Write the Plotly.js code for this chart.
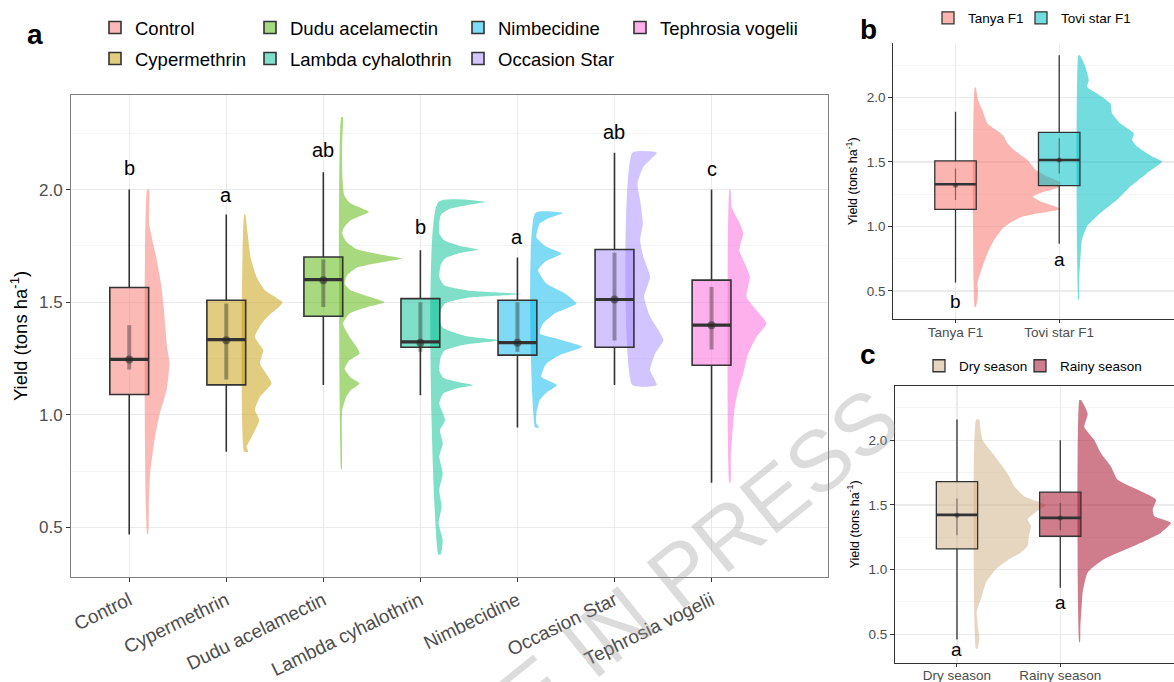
<!DOCTYPE html>
<html><head><meta charset="utf-8">
<script src="https://cdn.plot.ly/plotly-3.0.1.min.js"></script>
<style>html,body{margin:0;padding:0;background:#fff}#chart{width:1174px;height:682px}</style>
</head><body><div id="chart"></div>
<script>
// ---------------- Panel a data ----------------
const catsA = ['Control','Cypermethrin','Dudu acelamectin','Lambda cyhalothrin','Nimbecidine','Occasion Star','Tephrosia vogelii'];
const colorsA = ['#F8766D','#C49A00','#53B400','#00C094','#00B6EB','#A58AFF','#FB61D7'];
const lowA   = [0.469, 0.836, 1.133, 1.087, 0.944, 1.132, 0.698];
const q1A    = [1.090, 1.133, 1.438, 1.300, 1.265, 1.300, 1.220];
const medA   = [1.246, 1.334, 1.600, 1.324, 1.321, 1.512, 1.398];
const q3A    = [1.565, 1.509, 1.701, 1.516, 1.509, 1.734, 1.598];
const highA  = [2.000, 1.889, 2.077, 1.731, 1.698, 2.164, 2.000];
const meanA  = [1.246, 1.331, 1.598, 1.320, 1.320, 1.512, 1.398];
const ciLoA  = [1.201, 1.157, 1.479, 1.280, 1.280, 1.330, 1.290];
const ciHiA  = [1.398, 1.494, 1.690, 1.500, 1.500, 1.720, 1.568];
const lettersA = ['b','a','ab','b','a','ab','c'];
const letterYA = [2.094, 1.975, 2.175, 1.834, 1.790, 2.256, 2.090];

// half-violin density profiles (yield, density)
const vControlY = [2.00,1.85,1.70,1.58,1.48,1.40,1.30,1.23,1.11,1.00,0.89,0.74,0.59,0.47];
const vControlD = [0.02,0.02,0.093,0.144,0.170,0.185,0.205,0.230,0.200,0.127,0.076,0.031,0.017,0.010];
const vCyperY = [1.889,1.820,1.701,1.612,1.553,1.520,1.500,1.480,1.440,1.405,1.346,1.287,1.228,1.169,1.139,1.080,1.021,0.976,0.902,0.858,0.836];
const vCyperD = [0.010,0.031,0.065,0.127,0.213,0.330,0.395,0.360,0.250,0.179,0.110,0.196,0.162,0.247,0.282,0.162,0.110,0.155,0.076,0.024,0.041];
const vDuduY = [2.322,2.219,2.071,1.975,1.940,1.915,1.901,1.887,1.862,1.830,1.805,1.770,1.735,1.712,1.694,1.676,1.653,1.620,1.583,1.555,1.525,1.500,1.480,1.450,1.405,1.346,1.300,1.272,1.240,1.205,1.165,1.139,1.110,1.080,1.021,0.962,0.757];
const vDuduD = [0.017,0.010,0.010,0.030,0.090,0.220,0.285,0.220,0.090,0.025,0.010,0.050,0.160,0.400,0.629,0.400,0.160,0.060,0.034,0.090,0.280,0.447,0.280,0.086,0.017,0.086,0.160,0.189,0.080,0.034,0.100,0.189,0.100,0.052,0.010,0.005,0.005];
const vLambdaY = [1.945,1.935,1.915,1.890,1.860,1.805,1.775,1.750,1.734,1.718,1.695,1.665,1.612,1.575,1.552,1.536,1.520,1.495,1.464,1.420,1.385,1.350,1.331,1.312,1.285,1.257,1.198,1.165,1.147,1.132,1.117,1.095,1.050,0.976,0.932,0.873,0.814,0.740,0.666,0.592,0.518,0.444,0.380];
const vLambdaD = [0.481,0.350,0.120,0.030,0.012,0.010,0.060,0.220,0.412,0.220,0.070,0.025,0.010,0.060,0.300,0.859,0.300,0.070,0.025,0.012,0.050,0.280,0.636,0.280,0.060,0.025,0.010,0.050,0.190,0.361,0.190,0.050,0.010,0.069,0.017,0.045,0.010,0.045,0.010,0.034,0.003,0.045,0.024];
const vNimbY = [1.896,1.870,1.849,1.790,1.750,1.716,1.680,1.642,1.583,1.540,1.494,1.450,1.405,1.361,1.335,1.302,1.265,1.228,1.169,1.132,1.100,1.065,1.006,0.962,0.944];
const vNimbD = [0.285,0.120,0.045,0.010,0.100,0.268,0.100,0.027,0.113,0.300,0.423,0.200,0.079,0.045,0.250,0.485,0.250,0.113,0.062,0.223,0.120,0.045,0.010,0.010,0.038];
const vOccY = [2.164,2.101,2.027,1.953,1.849,1.775,1.701,1.612,1.524,1.435,1.376,1.331,1.272,1.198,1.132];
const vOccD = [0.251,0.113,0.052,0.079,0.107,0.079,0.113,0.182,0.120,0.182,0.268,0.320,0.234,0.182,0.251];
const vTephY = [2.000,1.923,1.849,1.805,1.731,1.672,1.612,1.524,1.464,1.405,1.346,1.272,1.183,1.109,1.036,0.962,0.814,0.698];
const vTephD = [0.010,0.021,0.107,0.141,0.100,0.158,0.210,0.175,0.278,0.381,0.278,0.192,0.141,0.089,0.055,0.038,0.014,0.010];
const violinsA = [[vControlY,vControlD],[vCyperY,vCyperD],[vDuduY,vDuduD],[vLambdaY,vLambdaD],[vNimbY,vNimbD],[vOccY,vOccD],[vTephY,vTephD]];

// ---------------- Panel b data ----------------
const catsB = ['Tanya F1','Tovi star F1'];
const colorsB = ['#F8766D','#00BFC4'];
const lowB  = [0.565, 0.865];
const q1B   = [1.133, 1.316];
const medB  = [1.327, 1.515];
const q3B   = [1.509, 1.729];
const highB = [1.889, 2.327];
const meanB = [1.320, 1.515];
const ciLoB = [1.205, 1.410];
const ciHiB = [1.450, 1.683];
const lettersB = ['b','a'];
const letterYB = [0.418, 0.741];
const vTanyaY = [2.077,1.979,1.902,1.799,1.730,1.696,1.645,1.593,1.516,1.439,1.387,1.340,1.300,1.262,1.232,1.200,1.136,1.100,1.072,0.995,0.892,0.789,0.686,0.557,0.505,0.428,0.376];
const vTanyaD = [0.010,0.032,0.074,0.122,0.240,0.283,0.315,0.379,0.508,0.588,0.700,0.830,0.800,0.640,0.560,0.620,0.830,0.600,0.444,0.283,0.186,0.122,0.074,0.026,0.032,0.026,0.010];
const vToviY = [2.327,2.237,2.134,2.082,2.031,1.953,1.876,1.799,1.722,1.670,1.619,1.542,1.503,1.413,1.310,1.207,1.104,1.001,0.898,0.744,0.563,0.434];
const vToviD = [0.013,0.068,0.100,0.084,0.180,0.309,0.325,0.405,0.534,0.518,0.566,0.711,0.807,0.662,0.502,0.373,0.212,0.084,0.035,0.019,0.006,0.006];
const violinsB = [[vTanyaY,vTanyaD],[vToviY,vToviD]];

// ---------------- Panel c data ----------------
const catsC = ['Dry season','Rainy season'];
const colorsC = ['#D2B48C','#A8102F'];
const lowC  = [0.460, 0.860];
const q1C   = [1.160, 1.258];
const medC  = [1.423, 1.400];
const q3C   = [1.681, 1.600];
const highC = [2.161, 2.000];
const meanC = [1.420, 1.400];
const ciLoC = [1.265, 1.305];
const ciHiC = [1.550, 1.515];
const lettersC = ['a','a'];
const letterYC = [0.380, 0.745];
const vDryY = [2.161,2.102,2.000,1.898,1.796,1.719,1.643,1.566,1.500,1.464,1.388,1.337,1.260,1.184,1.133,1.082,1.005,0.903,0.776,0.673,0.571,0.469,0.388];
const vDryD = [0.032,0.039,0.065,0.161,0.258,0.323,0.371,0.468,0.677,0.613,0.500,0.532,0.510,0.500,0.435,0.323,0.194,0.097,0.048,0.006,0.016,0.032,0.013];
const vRainyY = [2.311,2.204,2.102,2.000,1.898,1.796,1.694,1.617,1.541,1.464,1.413,1.362,1.286,1.184,1.082,0.980,0.827,0.724,0.571,0.439];
const vRainyD = [0.016,0.081,0.048,0.145,0.210,0.306,0.371,0.565,0.742,0.710,0.726,0.887,0.790,0.532,0.242,0.081,0.032,0.023,0.010,0.006];
const violinsC = [[vDryY,vDryD],[vRainyY,vRainyD]];

const yTicks = [0.5, 1.0, 1.5, 2.0];
const yTickText = ['0.5','1.0','1.5','2.0'];
const yMinor = [0.75, 1.25, 1.75, 2.25];

// ---------------- drawing ----------------
const W = 1174, H = 682;
const FONT = 'Liberation Sans, Arial, sans-serif';
const VOFF = 0.185, VSCALE = 1.0, BOXW = 0.4;
function rgba(hex, a){const n=parseInt(hex.slice(1),16);return `rgba(${(n>>16)&255},${(n>>8)&255},${n&255},${a})`;}

const traces = [];
const annotations = [];
const legends = {};
let legendCount = 0;

function addPanel(cats, colors, violins, low, q1, med, q3, high, mean, ciLo, ciHi, letters, letterY, ax, ov, st, legendPos) {
  cats.forEach((c, i) => {
    const pos = i + 1;
    const base = pos + VOFF;
    const [vy, vd] = violins[i];
    const xs = [base], ys = [vy[0]];
    vy.forEach((yv, k) => { xs.push(base + vd[k] * VSCALE); ys.push(yv); });
    xs.push(base); ys.push(vy[vy.length - 1]);
    xs.push(base); ys.push(vy[0]);
    traces.push({type:'scatter', mode:'lines', x:xs, y:ys, fill:'toself',
      fillcolor: rgba(colors[i], st.valpha), line:{width:0, shape:'spline', smoothing:0.5, color:rgba(colors[i],0)},
      xaxis:ax.x, yaxis:ax.y, showlegend:false, hoverinfo:'skip'});
  });
  cats.forEach((c, i) => {
    const pos = i + 1;
    legendCount++;
    const lname = legendCount === 1 ? 'legend' : 'legend' + legendCount;
    const lp = legendPos[i];
    legends[lname] = {x: (lp[0] - 40) / W, y: 1 - lp[1] / H, xanchor:'left', yanchor:'middle', xref:'paper', yref:'paper',
      bgcolor:'rgba(0,0,0,0)', borderwidth:0, orientation:'h', font:{family:FONT, size:st.legSize, color:'#000'}, itemclick:false, itemdoubleclick:false};
    traces.push({type:'box', name:c, x:[pos], q1:[q1[i]], median:[med[i]], q3:[q3[i]], lowerfence:[low[i]], upperfence:[high[i]],
      width:BOXW, whiskerwidth:0, boxpoints:false, fillcolor: rgba(colors[i], st.balpha),
      line:{color:'#333333', width:st.boxLine}, xaxis:ov.x, yaxis:ov.y, legend:lname, showlegend:true, hoverinfo:'skip'});
    traces.push({type:'scatter', mode:'lines', x:[pos - BOXW/2, pos + BOXW/2], y:[med[i], med[i]],
      line:{color:'#333333', width:st.medLine}, xaxis:ov.x, yaxis:ov.y, showlegend:false, hoverinfo:'skip'});
    traces.push({type:'scatter', mode:'markers', x:[pos], y:[mean[i]],
      marker:{size:st.ptSize, color:'rgba(40,40,40,0.55)'},
      error_y:{type:'data', symmetric:false, array:[ciHi[i]-mean[i]], arrayminus:[mean[i]-ciLo[i]], thickness:st.errW, width:0, color:st.errColor},
      xaxis:ov.x, yaxis:ov.y, showlegend:false, hoverinfo:'skip'});
    annotations.push({x:pos, y:letterY[i], xref:ov.x, yref:ov.y, text:letters[i], showarrow:false,
      font:{family:FONT, size:st.letterSize, color:'#000'}, xanchor:'center', yanchor:'middle'});
  });
}

const styleA = {valpha:0.5, balpha:0.5, boxLine:1.6, medLine:3.2, ptSize:8, errW:4, errColor:'rgba(40,40,40,0.4)', letterSize:20, legSize:18.5};
const styleBC = {valpha:0.55, balpha:0.55, boxLine:1.3, medLine:2.6, ptSize:5, errW:1.2, errColor:'rgba(40,40,40,0.55)', letterSize:19, legSize:13.5};

addPanel(catsA, colorsA, violinsA, lowA, q1A, medA, q3A, highA, meanA, ciLoA, ciHiA, lettersA, letterYA,
  {x:'x', y:'y'}, {x:'x4', y:'y4'}, styleA,
  [[135,28],[135,59],[290,28],[290,59],[498,28],[498,59],[660,28]]);
addPanel(catsB, colorsB, violinsB, lowB, q1B, medB, q3B, highB, meanB, ciLoB, ciHiB, lettersB, letterYB,
  {x:'x2', y:'y2'}, {x:'x5', y:'y5'}, styleBC, [[968,18],[1061,18]]);
addPanel(catsC, colorsC, violinsC, lowC, q1C, medC, q3C, highC, meanC, ciLoC, ciHiC, lettersC, letterYC,
  {x:'x3', y:'y3'}, {x:'x6', y:'y6'}, styleBC, [[959,366],[1060,366]]);

const YR = [0.28, 2.42];
function yAxis(domain, size, titleSize, showMirror, lineColor) {
  return {domain, range:YR, tickmode:'array', tickvals:yTicks, ticktext:yTickText, zeroline:false,
    showgrid:true, gridcolor:'#EBEBEB', gridwidth:1.2,
    minor:{tickmode:'array', tickvals:yMinor, showgrid:true, gridcolor:'#F5F5F5', gridwidth:1, ticks:''},
    showline:true, linecolor:lineColor, linewidth:1, mirror:showMirror,
    ticks:'outside', ticklen:4, tickcolor:'#333333', tickwidth:1,
    tickfont:{family:FONT, size, color:'#4D4D4D'},
    title:{text:'Yield (tons ha<sup>-1</sup>)', font:{family:FONT, size:titleSize, color:'#000'}, standoff:6}};
}
function xAxis(domain, range, cats, size, angle, mirror, lineColor, ticklen, standoff) {
  return {domain, range, tickmode:'array', tickvals:cats.map((c,i)=>i+1), ticktext:cats, tickangle:angle, zeroline:false,
    showgrid:true, gridcolor:'#EBEBEB', gridwidth:1.2, showline:true, linecolor:lineColor, linewidth:1, mirror,
    ticks:'outside', ticklen, tickcolor:'#333333', tickwidth:1, ticklabelstandoff:standoff,
    tickfont:{family:FONT, size, color:'#4D4D4D'}};
}
function overlay(base, range) { return {overlaying:base, range, visible:false, showgrid:false, zeroline:false}; }

const xRA = [0.4, 8.2], xRB = [0.4, 3.107], xRC = [0.4, 3.101];
const layout = Object.assign({
  width:W, height:H, margin:{l:0,r:0,t:0,b:0, autoexpand:false},
  paper_bgcolor:'#fff', plot_bgcolor:'#fff', boxmode:'overlay',
  xaxis: Object.assign(xAxis([71/W, 828/W], xRA, catsA, 19, -26, true, '#7F7F7F', 4, 0), {anchor:'y'}),
  yaxis: Object.assign(yAxis([1-577/H, 1-95/H], 17, 18.5, true, '#7F7F7F'), {anchor:'x'}),
  xaxis2: Object.assign(xAxis([893.3/W, 1], xRB, catsB, 13.5, 0, false, '#333333', 3, -3), {anchor:'y2'}),
  yaxis2: Object.assign(yAxis([1-319.3/H, 1-43.3/H], 13.5, 12.5, false, '#333333'), {anchor:'x2'}),
  xaxis3: Object.assign(xAxis([895/W, 1], xRC, catsC, 13.5, 0, true, '#333333', 3, -3), {anchor:'y3'}),
  yaxis3: Object.assign(yAxis([1-662.7/H, 1-386/H], 13.5, 12.5, false, '#333333'), {anchor:'x3'}),
  xaxis4: Object.assign(overlay('x', xRA), {anchor:'y4'}),
  yaxis4: Object.assign(overlay('y', YR), {anchor:'x4'}),
  xaxis5: Object.assign(overlay('x2', xRB), {anchor:'y5'}),
  yaxis5: Object.assign(overlay('y2', YR), {anchor:'x5'}),
  xaxis6: Object.assign(overlay('x3', xRC), {anchor:'y6'}),
  yaxis6: Object.assign(overlay('y3', YR), {anchor:'x6'}),
  annotations: annotations.concat([
    {text:'<b>a</b>', x:35/W, y:1-35/H, xref:'paper', yref:'paper', xanchor:'center', yanchor:'middle', showarrow:false, font:{family:FONT, size:28, color:'#000'}},
    {text:'<b>b</b>', x:868/W, y:1-30/H, xref:'paper', yref:'paper', xanchor:'center', yanchor:'middle', showarrow:false, font:{family:FONT, size:28, color:'#000'}},
    {text:'<b>c</b>', x:868/W, y:1-354/H, xref:'paper', yref:'paper', xanchor:'center', yanchor:'middle', showarrow:false, font:{family:FONT, size:28, color:'#000'}},
    {text:'ARTICLE IN PRESS', x:580/W, y:1-654/H, xref:'paper', yref:'paper', showarrow:false, textangle:-39,
     xanchor:'center', yanchor:'middle', font:{family:FONT, size:86, color:'rgba(150,150,150,0.33)'}}
  ])
}, legends);

Plotly.newPlot('chart', traces, layout, {staticPlot:true, displayModeBar:false});
</script></body></html>
